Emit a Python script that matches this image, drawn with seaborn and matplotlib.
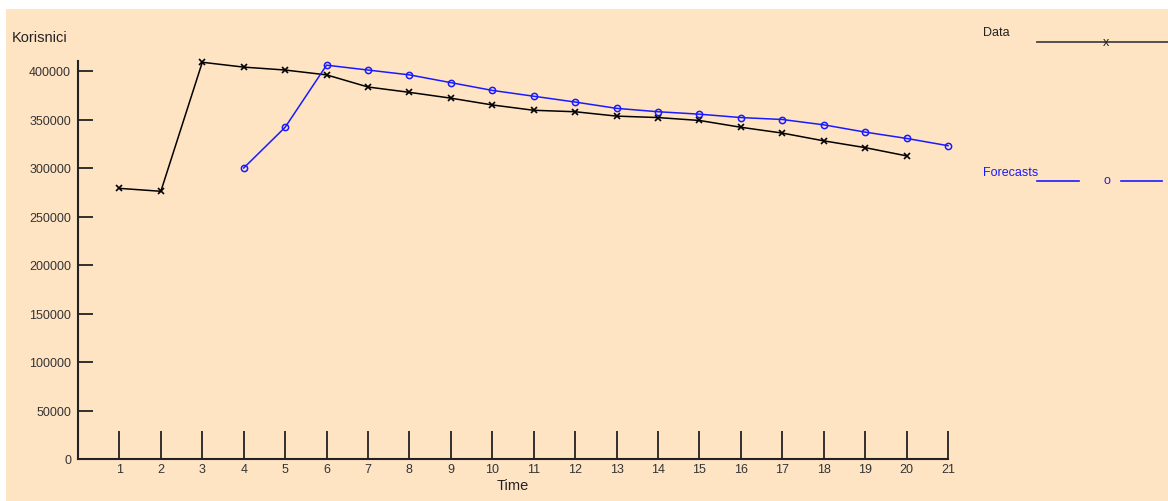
import numpy as np
import pandas as pd
import seaborn as sns
import matplotlib
matplotlib.use("Agg")
import matplotlib.pyplot as plt
from matplotlib.lines import Line2D
from matplotlib.patches import Rectangle

# values
time_data = list(range(1, 21))
users_data = [279000, 276000, 409000, 404000, 401000, 396000, 383500, 378000,
              372000, 365000, 359500, 358000, 353500, 352000, 349000, 342000,
              336000, 328000, 321000, 312500]

time_fc = list(range(4, 22))
users_fc = [300000, 342000, 406000, 401000, 396000, 388000, 380000, 374000,
            368000, 361500, 358000, 355500, 352000, 350000, 344500, 337000,
            330500, 323000]

y_ticks = list(range(0, 400001, 50000))
x_ticks = list(range(1, 22))

df_data = pd.DataFrame({"Time": time_data, "Korisnici": users_data})
df_fc = pd.DataFrame({"Time": time_fc, "Korisnici": users_fc})

plt.rcParams["font.family"] = ["Liberation Sans", "DejaVu Sans"]
bg = "#FFE4C4"
blue = "#1a1aff"

fig = plt.figure(figsize=(11.68, 5.02), dpi=100, facecolor="white")
fig.patches.append(Rectangle((6 / 1168, 0), 1, (502 - 10) / 502,
                             transform=fig.transFigure, facecolor=bg,
                             edgecolor="none", zorder=-10))
ax = fig.add_axes([78 / 1168, 42 / 502, 870 / 1168, 397.7 / 502])
ax.patch.set_alpha(0)

sns.lineplot(data=df_data, x="Time", y="Korisnici", ax=ax, color="black",
             marker="x", markersize=4.5, markeredgewidth=1.2,
             markeredgecolor="black", linewidth=1.1)
sns.lineplot(data=df_fc, x="Time", y="Korisnici", ax=ax, color=blue,
             marker="o", markersize=4.5, markerfacecolor="none",
             markeredgecolor=blue, markeredgewidth=1.1, linewidth=1.1)
for ln in ax.lines:
    ln.set_clip_on(False)

ax.set_xlim(0, 21)
ax.set_ylim(0, 410000)
ax.set_xticks(x_ticks)
ax.set_yticks(y_ticks)
ax.set_yticklabels([str(v) for v in y_ticks])
for s in ["top", "right"]:
    ax.spines[s].set_visible(False)
for s in ["left", "bottom"]:
    ax.spines[s].set_color("#222222")
    ax.spines[s].set_linewidth(1.5)
ax.tick_params(axis="x", direction="in", length=20, width=1.3,
               color="#222222", labelsize=9, labelcolor="#333333", pad=3)
ax.tick_params(axis="y", direction="in", length=11, width=1.3,
               color="#222222", labelsize=9, labelcolor="#333333", pad=5)
ax.set_xlabel("Time", fontsize=10.5, color="#222222", labelpad=2)
ax.set_ylabel("")
fig.text(12 / 1168, 1 - 38 / 502, "Korisnici", fontsize=10.5,
         color="#222222", va="center", ha="left")

# legend on the right
fig.text(983 / 1168, 1 - 33 / 502, "Data", fontsize=9, color="#222222",
         va="center", ha="left")
fig.lines.append(Line2D([1037 / 1168, 1168 / 1168], [1 - 43 / 502] * 2,
                        transform=fig.transFigure, color="#444444", lw=1.3))
fig.text(1106 / 1168, 1 - 43 / 502, "x", fontsize=9, color="#222222",
         va="center", ha="center")
fig.text(983 / 1168, 1 - 173 / 502, "Forecasts", fontsize=9, color=blue,
         va="center", ha="left")
fig.lines.append(Line2D([1037 / 1168, 1079 / 1168], [1 - 182 / 502] * 2,
                        transform=fig.transFigure, color=blue, lw=1.2))
fig.lines.append(Line2D([1121 / 1168, 1162 / 1168], [1 - 182 / 502] * 2,
                        transform=fig.transFigure, color=blue, lw=1.2))
fig.text(1107 / 1168, 1 - 181 / 502, "o", fontsize=9, color=blue,
         va="center", ha="center")

fig.savefig("out.png", dpi=100, facecolor="white")
